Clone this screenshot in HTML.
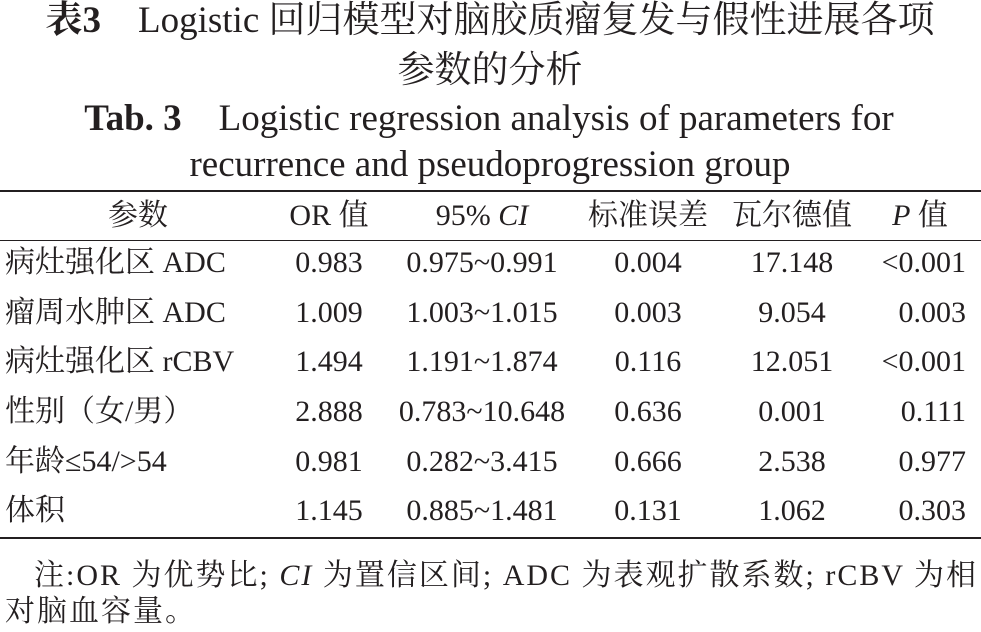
<!DOCTYPE html>
<html><head><meta charset="utf-8"><style>
body{margin:0;width:981px;height:630px;background:#fff;overflow:hidden;position:relative;font-family:"Liberation Serif","Noto Serif CJK SC",serif;color:#231f20}
.t{position:absolute;white-space:nowrap;line-height:40px;height:40px}
.c{transform:translateX(-50%)}
.r{transform:translateX(-100%)}
.rule{position:absolute;left:0;width:981px;background:#231f20}
.row{font-size:30px}
i{font-style:italic}
</style></head><body>
<div class="t c" style="left:490px;top:1px;font-size:37px"><b>表3</b>　Logistic 回归模型对脑胶质瘤复发与假性进展各项</div>
<div class="t c" style="left:490px;top:51px;font-size:37px">参数的分析</div>
<div class="t c" style="left:489px;top:99px;font-size:37px"><b>Tab. 3</b>　Logistic regression analysis of parameters for</div>
<div class="t c" style="left:490px;top:145px;font-size:37px">recurrence and pseudoprogression group</div>
<div class="rule" style="top:190px;height:2px"></div>
<div class="rule" style="top:240px;height:1px"></div>
<div class="rule" style="top:537px;height:2px"></div>

<div class="t c row" style="left:138px;top:196px">参数</div>
<div class="t c row" style="left:329px;top:196px">OR 值</div>
<div class="t c row" style="left:482px;top:196px">95% <i>CI</i></div>
<div class="t c row" style="left:648px;top:196px">标准误差</div>
<div class="t c row" style="left:792px;top:196px">瓦尔德值</div>
<div class="t c row" style="left:920px;top:196px"><i>P</i> 值</div>

<div class="t row" style="left:5px;top:243px">病灶强化区 ADC</div>
<div class="t c row" style="left:329px;top:243px">0.983</div>
<div class="t c row" style="left:482px;top:243px">0.975~0.991</div>
<div class="t c row" style="left:648px;top:243px">0.004</div>
<div class="t c row" style="left:792px;top:243px">17.148</div>
<div class="t r row" style="left:966px;top:243px">&lt;0.001</div>

<div class="t row" style="left:5px;top:293px">瘤周水肿区 ADC</div>
<div class="t c row" style="left:329px;top:293px">1.009</div>
<div class="t c row" style="left:482px;top:293px">1.003~1.015</div>
<div class="t c row" style="left:648px;top:293px">0.003</div>
<div class="t c row" style="left:792px;top:293px">9.054</div>
<div class="t r row" style="left:966px;top:293px">0.003</div>

<div class="t row" style="left:5px;top:342px">病灶强化区 rCBV</div>
<div class="t c row" style="left:329px;top:342px">1.494</div>
<div class="t c row" style="left:482px;top:342px">1.191~1.874</div>
<div class="t c row" style="left:648px;top:342px">0.116</div>
<div class="t c row" style="left:792px;top:342px">12.051</div>
<div class="t r row" style="left:966px;top:342px">&lt;0.001</div>

<div class="t row" style="left:5px;top:392px">性别（女/男）</div>
<div class="t c row" style="left:329px;top:392px">2.888</div>
<div class="t c row" style="left:482px;top:392px">0.783~10.648</div>
<div class="t c row" style="left:648px;top:392px">0.636</div>
<div class="t c row" style="left:792px;top:392px">0.001</div>
<div class="t r row" style="left:966px;top:392px">0.111</div>

<div class="t row" style="left:5px;top:442px">年龄≤54/&gt;54</div>
<div class="t c row" style="left:329px;top:442px">0.981</div>
<div class="t c row" style="left:482px;top:442px">0.282~3.415</div>
<div class="t c row" style="left:648px;top:442px">0.666</div>
<div class="t c row" style="left:792px;top:442px">2.538</div>
<div class="t r row" style="left:966px;top:442px">0.977</div>

<div class="t row" style="left:5px;top:491px">体积</div>
<div class="t c row" style="left:329px;top:491px">1.145</div>
<div class="t c row" style="left:482px;top:491px">0.885~1.481</div>
<div class="t c row" style="left:648px;top:491px">0.131</div>
<div class="t c row" style="left:792px;top:491px">1.062</div>
<div class="t r row" style="left:966px;top:491px">0.303</div>

<div class="t row" style="left:34px;top:556px;font-size:30px;letter-spacing:2px">注:OR 为优势比; <i>CI</i> 为置信区间; ADC 为表观扩散系数; rCBV 为相</div>
<div class="t row" style="left:5px;top:592px;font-size:30px;letter-spacing:2px">对脑血容量。</div>
</body></html>
